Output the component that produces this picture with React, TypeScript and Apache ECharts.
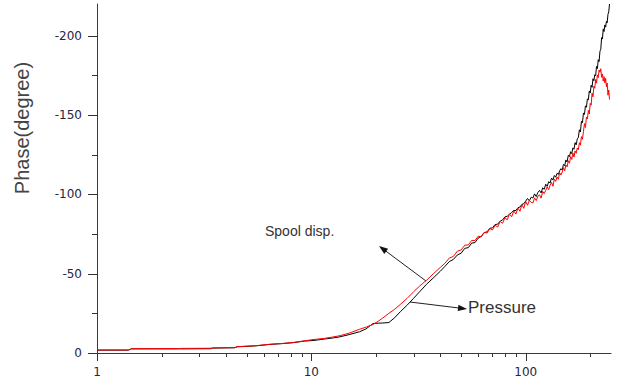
import React, { useEffect, useRef } from "react";
import * as echarts from "echarts";

// Frequency (Hz) shared by both measured traces
const FREQ = [
  1, 1.4, 1.45, 2.4, 2.45, 3.4, 3.45, 4.4, 4.5, 5.5, 6.4, 7.3, 8.2, 9.3, 10.4, 11.5, 12.5, 13.6, 15, 16.8,
  18, 19.4, 20.5, 21.5, 23, 24.5, 26, 28, 30, 32, 34.5, 37, 40,
  42, 44, 46, 48, 50, 52, 54, 56, 58, 60, 62, 64, 66, 68, 70, 72, 74, 76, 78, 80,
  82, 84, 86, 88, 90, 92, 94, 96, 98, 100,
  102, 104, 106, 108, 110, 112, 114, 116, 118, 120, 122, 124, 126, 128, 130, 132, 134, 136, 138, 140,
  142, 144, 146, 148, 150, 152, 154, 156, 158, 160, 162, 164, 166, 168, 170, 172, 174, 176, 178, 180,
  182, 184, 186, 188, 190, 192, 194, 196, 198, 200, 202, 204, 206, 208, 210, 212, 214, 216, 218, 220,
  222, 224, 226, 228, 230, 232, 234, 236, 238, 240, 242, 244, 246,
];

// Phase (degree) - Spool disp. (red)
const SPOOL = [
  -1.9, -1.9, -2.7, -2.8, -2.9, -3.0, -3.2, -3.4, -4.0, -4.6, -5.5, -6.0, -6.6, -7.7, -8.6, -9.2, -10.0, -10.9, -12.5, -15.0,
  -16.3, -18.0, -20.0, -22.0, -25.0, -27.6, -30.6, -34.5, -38.6, -42.2, -45.9, -49.8, -54.0,
  -56.6, -59.8, -60.9, -64.2, -65.0, -68.0, -68.1, -71.0, -70.9, -73.6, -73.2, -76.1, -75.6, -78.4, -77.6, -80.5, -79.4, -82.9, -81.8, -85.3,
  -84.0, -87.6, -85.9, -89.5, -87.6, -91.4, -89.3, -93.5, -91.2, -95.6,
  -93.1, -96.2, -95.0, -94.6, -97.8, -96.1, -98.9, -99.7, -97.6, -101.9, -100.4, -102.6, -104.8, -103.0, -105.9, -107.5, -105.1, -109.6, -108.2, -110.9,
  -109.5, -113.7, -112.2, -114.0, -116.8, -114.9, -118.6, -117.3, -121.2, -119.6, -123.8, -122.0, -126.1, -123.5, -127.4, -125.9, -129.2, -128.1, -132.6, -131.0,
  -136.4, -134.7, -139.8, -144.6, -142.1, -148.7, -147.5, -152.9, -150.6, -157.4, -156.2, -163.8, -161.5, -168.2, -166.9, -172.4, -170.1, -175.3, -173.6, -178.4,
  -177.0, -179.2, -173.8, -175.9, -171.4, -174.2, -170.3, -173.1, -167.9, -170.2, -162.5, -165.8, -159.8,
];

// Phase (degree) - Pressure (black)
const PRESSURE = [
  -1.8, -1.8, -2.6, -2.6, -2.6, -2.7, -3.1, -3.3, -3.9, -4.5, -5.4, -5.9, -6.5, -7.5, -8.0, -8.8, -9.4, -10.2, -11.6, -13.4,
  -15.2, -18.6, -18.8, -18.9, -19.2, -22.3, -26.0, -30.2, -34.5, -38.6, -43.4, -47.2, -51.6,
  -54.6, -57.6, -59.0, -61.8, -62.9, -66.0, -66.4, -69.3, -69.6, -72.4, -73.5, -75.8, -76.4, -78.6, -78.9, -81.0, -81.2, -83.1, -83.9, -85.8,
  -86.2, -87.5, -88.6, -89.9, -89.8, -91.6, -92.0, -93.7, -94.1, -95.8,
  -97.4, -95.9, -98.2, -97.7, -100.3, -98.6, -101.2, -102.5, -100.9, -104.1, -103.2, -106.4, -105.1, -108.0, -107.2, -110.3, -109.1, -111.9, -110.8, -113.2,
  -112.6, -114.9, -116.2, -115.3, -118.9, -118.1, -121.7, -120.4, -124.6, -123.8, -126.9, -125.7, -129.3, -128.4, -132.6, -131.2, -134.8, -135.9, -140.7, -139.3,
  -146.1, -145.2, -151.3, -150.4, -155.8, -154.9, -160.1, -159.6, -165.2, -163.9, -168.8, -167.5, -172.9, -171.6, -175.4, -174.8, -180.6, -179.3, -184.9, -183.7,
  -190.2, -191.4, -198.8, -197.9, -204.3, -202.6, -206.8, -205.4, -209.1, -208.2, -213.5, -215.0, -220.0,
];

const X_MIN = 1;
const X_MAX = 250;
const X_MAJOR = [1, 10, 100];
const X_MINOR = [2, 3, 4, 5, 6, 7, 8, 9, 20, 30, 40, 50, 60, 70, 80, 90, 200];
const Y_MIN = -220;
const Y_MAX = 0;
const Y_MAJOR = [0, -50, -100, -150, -200];
const Y_MINOR = [-25, -75, -125, -175];

const Y_NAME = "Phase(degree)";
const LABEL_SPOOL = "Spool disp.";
const LABEL_PRESSURE = "Pressure";

const AXIS_COLOR = "#3a3a3a";
const TICK_COLOR = "#333333";
const LABEL_FONT = "DejaVu Sans";
const TEXT_FONT = "Liberation Sans";

function arrow(x1: number, y1: number, x2: number, y2: number) {
  const dx = x2 - x1;
  const dy = y2 - y1;
  const len = Math.sqrt(dx * dx + dy * dy);
  const ux = dx / len;
  const uy = dy / len;
  const L = 9;
  const W = 3.2;
  const bx = x2 - ux * L;
  const by = y2 - uy * L;
  return [
    {
      type: "line",
      shape: { x1, y1, x2: x2 - ux * 4, y2: y2 - uy * 4 },
      style: { stroke: "#222", lineWidth: 1 },
      silent: true,
    },
    {
      type: "polygon",
      shape: {
        points: [
          [x2, y2],
          [bx - uy * W, by + ux * W],
          [bx + uy * W, by - ux * W],
        ],
      },
      style: { fill: "#111" },
      silent: true,
    },
  ];
}

export default function App() {
  const ref = useRef<HTMLDivElement>(null);

  useEffect(() => {
    document.body.style.margin = "0";
    if (!ref.current) return;
    const chart = echarts.init(ref.current, null, { renderer: "svg" });

    const spoolData = FREQ.map((f, i) => [f, SPOOL[i]]);
    const pressureData = FREQ.map((f, i) => [f, PRESSURE[i]]);
    const lg = (v: number) => Math.log10(v);

    chart.setOption({
      animation: false,
      backgroundColor: "#ffffff",
      grid: { left: 97, right: 8, top: 4, bottom: 30, containLabel: false, outerBoundsMode: "none" },
      xAxis: [
        {
          type: "log",
          logBase: 10,
          min: X_MIN,
          max: X_MAX,
          position: "bottom",
          axisLine: { show: true, onZero: false, lineStyle: { color: AXIS_COLOR, width: 1 } },
          axisTick: { show: false },
          axisLabel: { show: false },
          splitLine: { show: false },
        },
        {
          type: "value",
          position: "bottom",
          min: lg(X_MIN),
          max: lg(X_MAX),
          axisLine: { show: false, onZero: false },
          axisTick: { show: false },
          splitLine: { show: false },
          axisLabel: {
            show: true,
            customValues: X_MAJOR.map(lg),
            margin: 13,
            fontFamily: LABEL_FONT,
            fontSize: 12,
            color: "#2a2440",
            formatter: (v: number) => String(Math.round(Math.pow(10, v))),
          },
        },
      ],
      yAxis: [
        {
          type: "value",
          inverse: true,
          min: Y_MIN,
          max: Y_MAX,
          position: "left",
          axisLine: { show: true, onZero: false, lineStyle: { color: AXIS_COLOR, width: 1 } },
          axisTick: { show: false },
          axisLabel: {
            show: true,
            customValues: Y_MAJOR,
            margin: 15,
            fontFamily: LABEL_FONT,
            fontSize: 12,
            color: "#2a2440",
          },
          splitLine: { show: false },
        },
      ],
      series: [
        {
          name: LABEL_PRESSURE,
          type: "line",
          xAxisIndex: 0,
          yAxisIndex: 0,
          data: pressureData,
          showSymbol: false,
          symbol: "none",
          lineStyle: { color: "#000000", width: 1 },
          z: 2,
        },
        {
          name: LABEL_SPOOL,
          type: "line",
          xAxisIndex: 0,
          yAxisIndex: 0,
          data: spoolData,
          showSymbol: false,
          symbol: "none",
          lineStyle: { color: "#ff0000", width: 1 },
          z: 3,
        },
      ],
    });

    // axis ticks placed through the chart's own coordinate conversion
    const finder = { xAxisIndex: 0, yAxisIndex: 0 };
    const tickEls: any[] = [];
    const addX = (v: number, len: number) => {
      const p = chart.convertToPixel(finder, [v, Y_MAX]) as number[];
      const x = Math.round(p[0]) + 0.5;
      const y = Math.round(p[1]);
      tickEls.push({
        type: "line",
        shape: { x1: x, y1: y, x2: x, y2: y + len },
        style: { stroke: TICK_COLOR, lineWidth: 1 },
      });
    };
    const addY = (v: number, len: number) => {
      const p = chart.convertToPixel(finder, [X_MIN, v]) as number[];
      const x = Math.round(p[0]);
      const y = Math.round(p[1]) + 0.5;
      tickEls.push({
        type: "line",
        shape: { x1: x - len, y1: y, x2: x, y2: y },
        style: { stroke: TICK_COLOR, lineWidth: 1 },
      });
    };
    X_MAJOR.forEach((v) => addX(v, 8));
    X_MINOR.forEach((v) => addX(v, 4));
    Y_MAJOR.forEach((v) => addY(v, 9));
    Y_MINOR.forEach((v) => addY(v, 5));

    chart.setOption({
      graphic: [
        {
          type: "text",
          x: 22,
          y: 128,
          rotation: Math.PI / 2,
          style: {
            text: Y_NAME,
            fontFamily: TEXT_FONT,
            fontSize: 20,
            fill: "#444444",
            align: "center",
            verticalAlign: "middle",
          },
        },
        {
          type: "text",
          x: 265,
          y: 231,
          style: {
            text: LABEL_SPOOL,
            fontFamily: TEXT_FONT,
            fontSize: 14,
            fill: "#333333",
            align: "left",
            verticalAlign: "middle",
          },
        },
        {
          type: "text",
          x: 468,
          y: 307,
          style: {
            text: LABEL_PRESSURE,
            fontFamily: TEXT_FONT,
            fontSize: 17,
            fill: "#333333",
            align: "left",
            verticalAlign: "middle",
          },
        },
        ...arrow(426, 281, 379, 246),
        ...arrow(410, 302, 467, 309),
        ...tickEls,
      ],
    });

    return () => {
      chart.dispose();
    };
  }, []);

  return <div ref={ref} style={{ width: 619, height: 383 }} />;
}
